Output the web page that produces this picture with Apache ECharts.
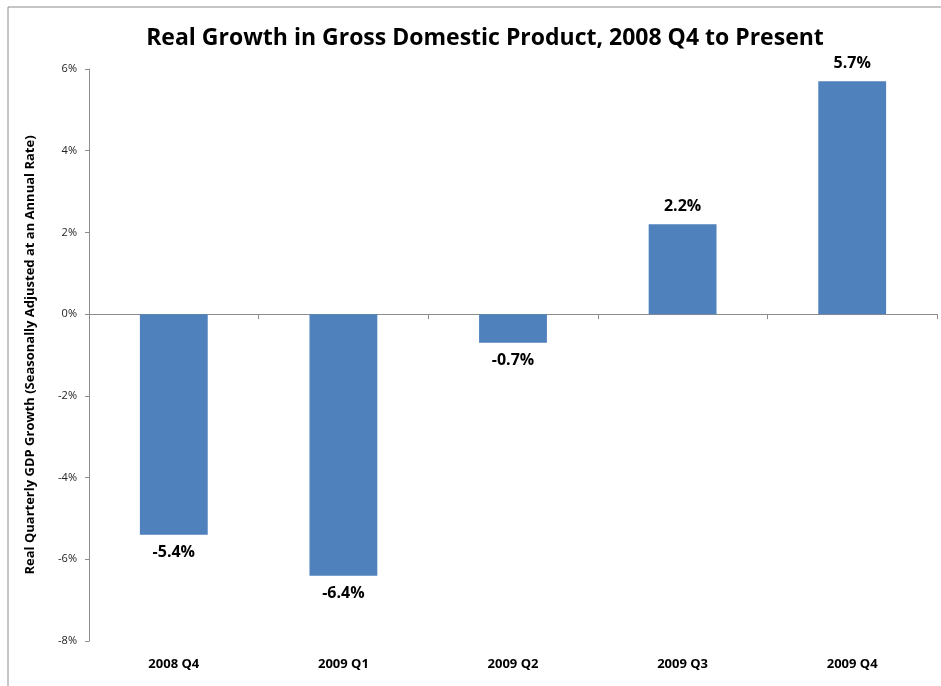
<!DOCTYPE html>
<html>
<head>
<meta charset="utf-8">
<script src="https://cdn.jsdelivr.net/npm/echarts@6/dist/echarts.min.js"></script>
<style>
html,body{margin:0;padding:0;background:#fff;}
#c{width:941px;height:686px;}
</style>
</head>
<body>
<div id="c"></div>
<script>
const categories = ['2008 Q4', '2009 Q1', '2009 Q2', '2009 Q3', '2009 Q4'];
const growth = [-5.4, -6.4, -0.7, 2.2, 5.7];
const yTicks = { min: -8, max: 6, interval: 2 };
const titleText = 'Real Growth in Gross Domestic Product, 2008 Q4 to Present';
const yAxisTitle = 'Real Quarterly GDP Growth (Seasonally Adjusted at an Annual Rate)';

const FONT = '"Open Sans", sans-serif';
const chart = echarts.init(document.getElementById('c'), null, { renderer: 'canvas' });
chart.setOption({
  animation: false,
  backgroundColor: '#fff',
  graphic: [{
    type: 'rect',
    shape: { x: 8, y: 7, width: 960, height: 700 },
    style: { fill: 'none', stroke: '#8c8c8c', lineWidth: 1 },
    silent: true
  }],
  title: {
    text: titleText,
    left: 480,
    textAlign: 'center',
    top: 22,
    textStyle: { fontFamily: FONT, fontSize: 23, fontWeight: 'bold', color: '#000' }
  },
  grid: { left: 89, right: 4, top: 69, bottom: 45, containLabel: false },
  xAxis: [{
    type: 'category',
    data: categories,
    position: 'bottom',
    axisLine: { show: false, onZero: false },
    axisTick: { show: false },
    axisLabel: { fontFamily: FONT, fontSize: 13, fontWeight: 'bold', color: '#000', margin: 17 }
  }, {
    type: 'category',
    data: categories,
    position: 'bottom',
    axisLine: { show: true, onZero: true, onZeroAxisIndex: 0, lineStyle: { color: '#8c8c8c', width: 1 } },
    axisTick: { show: true, length: 5, lineStyle: { color: '#8c8c8c' } },
    axisLabel: { show: false }
  }],
  yAxis: {
    type: 'value',
    min: yTicks.min,
    max: yTicks.max,
    interval: yTicks.interval,
    name: yAxisTitle,
    nameLocation: 'middle',
    nameGap: 52,
    nameTextStyle: { fontFamily: FONT, fontSize: 13, fontWeight: 'bold', color: '#000' },
    axisLine: { show: true, lineStyle: { color: '#8c8c8c' } },
    axisTick: { show: true, length: 4, lineStyle: { color: '#8c8c8c' } },
    splitLine: { show: false },
    axisLabel: { formatter: '{value}%', fontFamily: FONT, fontSize: 11, color: '#222', margin: 12 }
  },
  series: [{
    type: 'bar',
    xAxisIndex: 0,
    data: growth,
    barWidth: '40%',
    itemStyle: { color: '#4F81BD' },
    label: {
      show: true,
      position: 'outside',
      distance: 10,
      formatter: p => p.value.toFixed(1) + '%',
      fontFamily: FONT,
      fontSize: 16,
      fontWeight: 'bold',
      color: '#000'
    }
  }]
});
</script>
</body>
</html>
